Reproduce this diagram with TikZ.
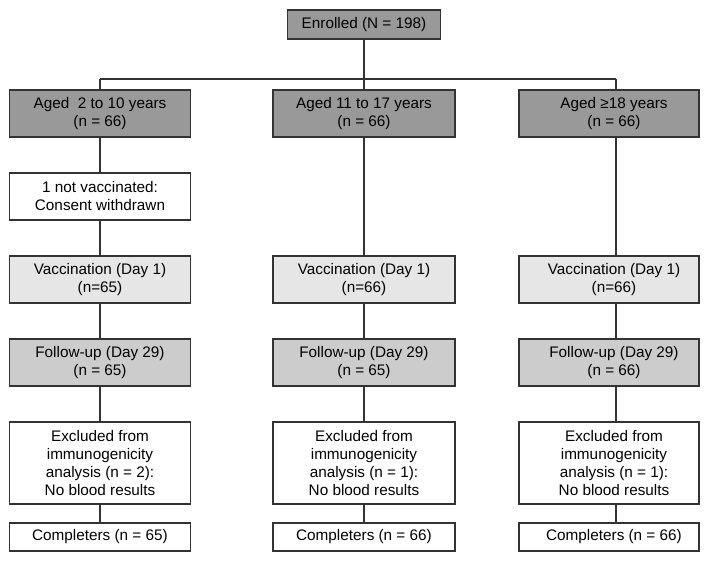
\documentclass[tikz,border=0pt]{standalone}
\usepackage{fontspec}
\setmainfont{Liberation Sans}
\definecolor{gdark}{HTML}{999999}
\definecolor{glight}{HTML}{E6E6E6}
\definecolor{gmid}{HTML}{CCCCCC}
\definecolor{edge}{HTML}{333333}
\begin{document}
\begin{tikzpicture}[x=1pt,y=-1pt,
  box/.style={draw=edge,line width=1.4pt,rectangle,inner sep=0pt,align=center,
    font=\fontsize{15.3}{18}\selectfont},
  w1/.style={minimum width=181pt},
  w2/.style={minimum width=182pt},
  w3/.style={minimum width=180pt},
  h1/.style={minimum height=47pt},
  hx/.style={minimum height=82pt},
  hc/.style={minimum height=28pt},
  rtext/.style={label={[align=center,xshift=5pt,font=\fontsize{15.3}{18}\selectfont]center:#1}},
  conn/.style={draw=edge,line width=1.4pt}]
\useasboundingbox (0,0) rectangle (710,562);
% top
\node[box,fill=gdark,minimum width=153pt,minimum height=29pt] (enr) at (364,24.5) {Enrolled (N = 198)};
% row 1
\node[box,w1,h1,fill=gdark] (a1) at (100,113.5) {Aged\ \ 2 to 10 years\\(n = 66)};
\node[box,w2,h1,fill=gdark] (a2) at (364,113.5) {Aged 11 to 17 years\\(n = 66)};
\node[box,w3,h1,fill=gdark,rtext={Aged ≥18 years\\(n = 66)}] (a3) at (609,113.5) {};
% consent
\node[box,w1,h1,fill=white] (c1) at (100,196.5) {1 not vaccinated:\\Consent withdrawn};
% vaccination
\node[box,w1,h1,fill=glight] (v1) at (100,279.5) {Vaccination (Day 1)\\(n=65)};
\node[box,w2,h1,fill=glight] (v2) at (364,279.5) {Vaccination (Day 1)\\(n=66)};
\node[box,w3,h1,fill=glight,rtext={Vaccination (Day 1)\\(n=66)}] (v3) at (609,279.5) {};
% follow-up
\node[box,w1,h1,fill=gmid] (f1) at (100,362.5) {Follow-up (Day 29)\\(n = 65)};
\node[box,w2,h1,fill=gmid] (f2) at (364,362.5) {Follow-up (Day 29)\\(n = 65)};
\node[box,w3,h1,fill=gmid,rtext={Follow-up (Day 29)\\(n = 66)}] (f3) at (609,362.5) {};
% excluded
\node[box,w1,hx,fill=white] (e1) at (100,463) {Excluded from\\immunogenicity\\analysis (n = 2):\\No blood results};
\node[box,w2,hx,fill=white] (e2) at (364,463) {Excluded from\\immunogenicity\\analysis (n = 1):\\No blood results};
\node[box,w3,hx,fill=white,rtext={Excluded from\\immunogenicity\\analysis (n = 1):\\No blood results}] (e3) at (609,463) {};
% completers
\node[box,w1,hc,fill=white] (k1) at (100,537) {Completers (n = 65)};
\node[box,w2,hc,fill=white] (k2) at (364,537) {Completers (n = 66)};
\node[box,w3,hc,fill=white,rtext={Completers (n = 66)}] (k3) at (609,537) {};
% junctions
\coordinate (jl) at (100,79);
\coordinate (jr) at (616,79);
% connectors
\draw[conn] (jl) -- (jr);
\draw[conn] (enr) -- (a2);
\draw[conn] (jl) -- (a1);
\draw[conn] (jr) -- (jr |- a3.north);
\draw[conn] (a1) -- (c1);
\draw[conn] (c1) -- (v1);
\draw[conn] (v1) -- (f1);
\draw[conn] (f1) -- (e1);
\draw[conn] (e1) -- (k1);
\draw[conn] (a2) -- (v2);
\draw[conn] (v2) -- (f2);
\draw[conn] (f2) -- (e2);
\draw[conn] (e2) -- (k2);
\draw[conn] (jr |- a3.south) -- (jr |- v3.north);
\draw[conn] (jr |- v3.south) -- (jr |- f3.north);
\draw[conn] (jr |- f3.south) -- (jr |- e3.north);
\draw[conn] (jr |- e3.south) -- (jr |- k3.north);
\end{tikzpicture}
\end{document}
